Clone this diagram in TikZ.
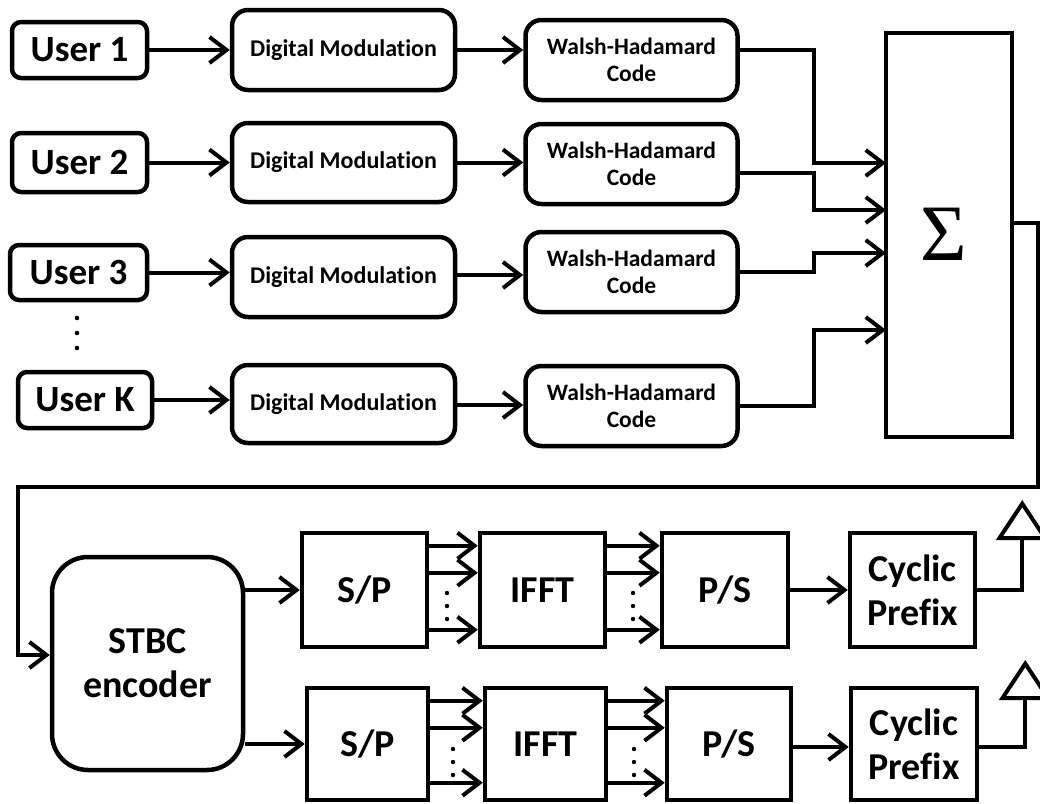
\documentclass[tikz,border=0pt]{standalone}
\usepackage{fontspec}
\setmainfont{Carlito}[Ligatures=NoCommon]
\newfontfamily\sigfont{Liberation Serif}
\usetikzlibrary{arrows.meta}

\tikzset{
  base/.style={draw, line width=4.5pt, inner sep=0pt, align=center, text=black},
  userbox/.style={base, rounded corners=9pt, minimum height=56pt,
    font=\bfseries\fontsize{37}{40}\selectfont},
  modbox/.style={base, rounded corners=16pt, minimum width=223pt, minimum height=80pt,
    font=\bfseries\fontsize{24}{27}\selectfont},
  codebox/.style={base, rounded corners=16pt, minimum width=212pt, minimum height=80pt,
    font=\bfseries\fontsize{23.5}{27}\selectfont},
  blockbox/.style={base, font=\bfseries\fontsize{38}{44}\selectfont},
  link/.style={line width=4pt},
  arr/.style={link, -{Straight Barb[length=17pt,width=26pt]}},
  outarr/.style={link, -{Triangle[open,length=40pt,width=52pt]}},
  dot/.style={fill=black},
}

\begin{document}
\begin{tikzpicture}[x=1pt,y=-1pt]
\useasboundingbox (0,0) rectangle (1040,803);

% ---- users ----
\node[userbox, minimum width=135pt] (u1) at (79.5,50)  {User 1};
\node[userbox, minimum width=135pt, minimum height=59pt] (u2) at (79.5,162.5) {User 2};
\node[userbox, minimum width=137pt, minimum height=55pt] (u3) at (78.5,272.5) {User 3};
\node[userbox, minimum width=134pt] (uk) at (85,400) {User K};

% vertical ellipsis between User 3 and User K
\fill[dot] (77,318) circle (2.3pt);
\fill[dot] (77,333) circle (2.3pt);
\fill[dot] (77,348) circle (2.3pt);

% ---- modulators ----
\node[modbox] (m1) at (343.5,50)    {Digital Modulation};
\node[modbox, minimum height=79pt] (m2) at (343.5,162.5) {Digital Modulation};
\node[modbox] (m3) at (343.5,277)   {Digital Modulation};
\node[modbox, minimum height=78pt] (m4) at (343.5,404) {Digital Modulation};

% ---- spreading codes ----
\node[codebox] (c1) at (631.5,60)  {Walsh-Hadamard\\Code};
\node[codebox] (c2) at (631.5,164) {Walsh-Hadamard\\Code};
\node[codebox] (c3) at (631.5,272) {Walsh-Hadamard\\Code};
\node[codebox] (c4) at (631.5,406) {Walsh-Hadamard\\Code};

% ---- summation ----
\node[base, minimum width=126pt, minimum height=404pt] (sum) at (949,235) {};
\node[font=\sigfont\fontsize{80}{80}\selectfont, inner sep=0pt] (sigma) at (944,234) {Σ};
\coordinate (s1) at (886,163);
\coordinate (s2) at (886,210);
\coordinate (s3) at (886,253);
\coordinate (s4) at (886,330);

% user -> modulation
\draw[arr] (u1.east) -- (u1.east -| m1.west);
\draw[arr] (u2.east) -- (u2.east -| m2.west);
\draw[arr] (u3.east) -- (u3.east -| m3.west);
\draw[arr] (uk.east) -- (uk.east -| m4.west);

% modulation -> code
\draw[arr] (m1.east) -- (m1.east -| c1.west);
\draw[arr] (m2.east) -- (m2.east -| c2.west);
\draw[arr] ([yshift=2pt]m3.east) -- ([yshift=2pt]m3.east -| c3.west);
\draw[arr] ([yshift=-1pt]m4.east) -- ([yshift=-1pt]m4.east -| c4.west);

% code -> summation
\draw[arr] (m1.east -| c1.east) -- ++(74,0) |- (s1);
\draw[arr] ([yshift=-9pt]c2.east) -- ++(74,0) |- (s2);
\draw[arr] (c3.east) -- ++(74,0) |- (s3);
\draw[arr] (c4.east) -- ++(74,0) |- (s4);

% ---- STBC encoder ----
\node[base, rounded corners=36pt, minimum width=191pt, minimum height=213pt,
      font=\bfseries\fontsize{38}{44}\selectfont] (stbc) at (147.5,663.5) {STBC\\encoder};

% summation output loops back to the encoder
\coordinate (rt) at (1038,487);
\coordinate (lf) at (18,487);
\draw[arr] ([yshift=12pt]sum.east) -| (rt) -- (lf) |- ([yshift=8.5pt]stbc.west);

% ---- branch A ----
\node[blockbox, minimum width=125pt, minimum height=114pt] (spa) at (364.5,590) {S/P};
\node[blockbox, minimum width=125pt, minimum height=114pt] (ifa) at (542.5,590) {IFFT};
\node[blockbox, minimum width=126pt, minimum height=114pt] (psa) at (725,590) {P/S};
\node[blockbox, minimum width=125pt, minimum height=114pt] (cpa) at (912.5,590) {Cyclic\\Prefix};

% ---- branch B ----
\node[blockbox, minimum width=121pt, minimum height=112pt] (spb) at (367.5,744) {S/P};
\node[blockbox, minimum width=121pt, minimum height=112pt] (ifb) at (545.5,744) {IFFT};
\node[blockbox, minimum width=124pt, minimum height=112pt] (psb) at (729,744) {P/S};
\node[blockbox, minimum width=126pt, minimum height=112pt] (cpb) at (914,744) {Cyclic\\Prefix};

% encoder -> S/P
\draw[arr] (stbc.east |- spa.west) -- (spa.west);
\draw[arr] (stbc.east |- spb.west) -- (spb.west);

% parallel streams
\foreach \d in {15,42,99} {
  \draw[arr] ([yshift=-\d pt]spa.north east) -- ([yshift=-\d pt]spa.north east -| ifa.west);
  \draw[arr] ([yshift=-\d pt]ifa.north east) -- ([yshift=-\d pt]ifa.north east -| psa.west);
}
\foreach \d in {15,42,97} {
  \draw[arr] ([yshift=-\d pt]spb.north east) -- ([yshift=-\d pt]spb.north east -| ifb.west);
  \draw[arr] ([yshift=-\d pt]ifb.north east) -- ([yshift=-\d pt]ifb.north east -| psb.west);
}
\foreach \y in {593,606,619} {
  \fill[dot] (447,\y) circle (2.2pt);
  \fill[dot] (633,\y) circle (2.2pt);
}
\foreach \y in {749,762,775} {
  \fill[dot] (453,\y) circle (2.2pt);
  \fill[dot] (634,\y) circle (2.2pt);
}

% P/S -> cyclic prefix
\draw[arr] (psa.east) -- (cpa.west);
\draw[arr] ([yshift=-3pt]psb.east) -- ([yshift=-3pt]cpb.west);

% outputs to the antennas
\draw[outarr] (cpa.east) -- ++(45,0) -- ++(0,-90);
\draw[outarr] ([yshift=-3pt]cpb.east) -- ++(46,0) -- ++(0,-87);
\end{tikzpicture}
\end{document}
